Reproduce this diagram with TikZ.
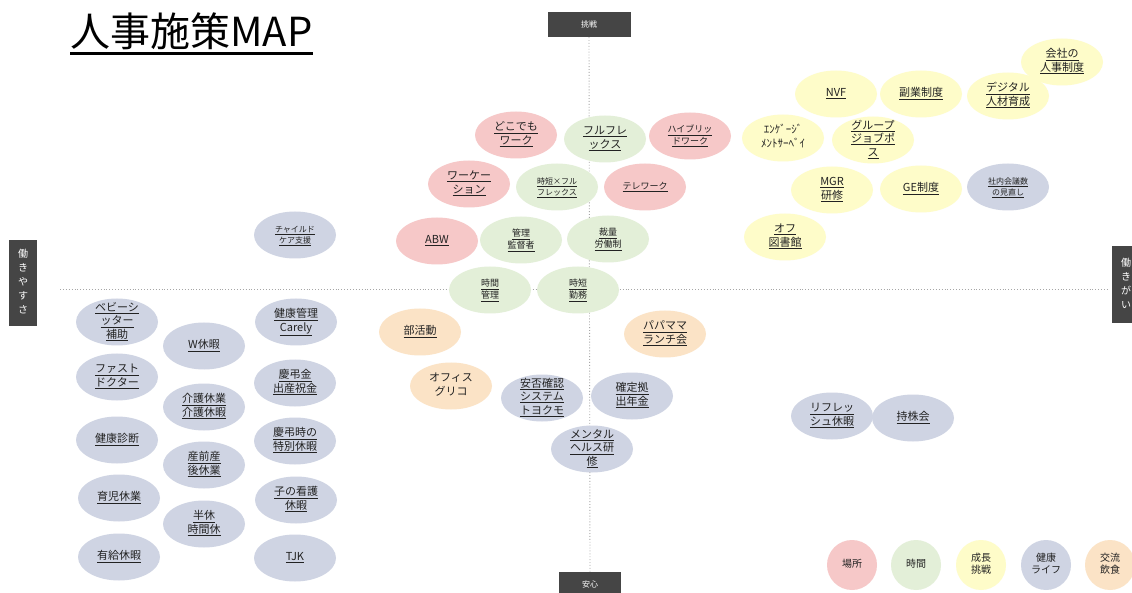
\documentclass[tikz,border=0pt]{standalone}
\usepackage{fontspec}
\setmainfont{Noto Sans CJK JP}
\usetikzlibrary{shapes.geometric}
\definecolor{cPink}{HTML}{F6C8C8}
\definecolor{cGreen}{HTML}{E3EFD8}
\definecolor{cYellow}{HTML}{FEFCC9}
\definecolor{cBlue}{HTML}{CFD4E3}
\definecolor{cOrange}{HTML}{FBE3C6}
\definecolor{axisbox}{HTML}{454545}
\definecolor{txt}{HTML}{222222}
\newcommand{\U}[1]{\underline{#1}}
\newcommand{\T}[1]{\raisebox{-2.6pt}[0pt][0pt]{\begin{tabular}{@{}c@{}}#1\end{tabular}}}
\tikzset{
  pol/.style={ellipse, minimum width=82pt, minimum height=47pt, inner sep=0pt, text=txt, font=\fontsize{11}{13.5}\selectfont},
  small/.style={font=\fontsize{9}{12}\selectfont},
  tiny/.style={font=\fontsize{8}{11}\selectfont},
  place/.style={pol, fill=cPink},
  timec/.style={pol, fill=cGreen},
  growth/.style={pol, fill=cYellow},
  health/.style={pol, fill=cBlue},
  social/.style={pol, fill=cOrange},
  legendc/.style={circle, minimum size=50pt, inner sep=0pt, text=txt, font=\fontsize{10}{12.5}\selectfont},
  axislbl/.style={fill=axisbox, text=white, inner sep=0pt, font=\fontsize{8}{10}\selectfont},
  vlbl/.style={axislbl, font=\fontsize{10}{14}\selectfont},
  axisline/.style={draw=black!35, dotted, line width=0.9pt}
}
\begin{document}
\begin{tikzpicture}[x=1pt,y=-1pt]
\useasboundingbox[fill=white] (0,0) rectangle (1132,593);

% title
\node[anchor=base west, inner sep=0pt, text=black, font=\fontsize{40}{44}\selectfont] (title) at (70,47) {人事施策MAP};
\draw[line width=2.2pt] ([yshift=-3pt]title.south west) -- ([yshift=-3pt]title.south east);

% axes
\node[axislbl, minimum width=83pt, minimum height=25pt] (top) at (589,24.5) {挑戦};
\node[axislbl, minimum width=62pt, minimum height=24pt] (bot) at (590,584) {安心};
\node[vlbl, minimum width=28pt, minimum height=86pt] (left) at (23,283) {\T{働\\き\\や\\す\\さ}};
\node[vlbl, minimum width=28pt, minimum height=77pt] (right) at (1126,285) {\T{働\\き\\が\\い}};
\coordinate (hl) at (60,289);
\coordinate (hr) at (1108,289);
\draw[axisline] (top.south) -- (bot.north);
\draw[axisline] (hl) -- (hr);

% place (pink)
\node[place] (w1) at (516,135) {\T{\U{どこでも}\\\U{ワーク}}};
\node[place, small] (w2) at (690,136) {\T{\U{ハイブリッ}\\\U{ドワーク}}};
\node[place] (w3) at (469,184) {\T{\U{ワーケー}\\\U{ション}}};
\node[place, small] (w4) at (645,187) {\T{\U{テレワーク}}};
\node[place] (w5) at (437,241) {\T{\U{ABW}}};

% time (green)
\node[timec] (t1) at (605,139) {\T{\U{フルフレ}\\\U{ックス}}};
\node[timec, tiny] (t2) at (557,187) {\T{\U{時短×フル}\\\U{フレックス}}};
\node[timec, small] (t3) at (521,240) {\T{\U{管理}\\\U{監督者}}};
\node[timec, small] (t4) at (608,239) {\T{\U{裁量}\\\U{労働制}}};
\node[timec, small] (t5) at (490,290) {\T{\U{時間}\\\U{管理}}};
\node[timec, small] (t6) at (578,290) {\T{\U{時短}\\\U{勤務}}};

% growth (yellow)
\node[growth] (g1) at (1062,62) {\T{\U{会社の}\\\U{人事制度}}};
\node[growth] (g2) at (836,94) {\T{\U{NVF}}};
\node[growth] (g3) at (921,94) {\T{\U{副業制度}}};
\node[growth] (g4) at (1008,96) {\T{\U{デジタル}\\\U{人材育成}}};
\node[growth] (g5) at (783,138) {\T{ｴﾝｹﾞｰｼﾞ\\ﾒﾝﾄｻｰﾍﾞｲ}};
\node[growth] (g6) at (873,140) {\T{\U{グループ}\\\U{ジョブポ}\\\U{ス}}};
\node[growth] (g7) at (832,190) {\T{\U{MGR}\\\U{研修}}};
\node[growth] (g8) at (921,189) {\T{\U{GE制度}}};
\node[growth] (g9) at (785,237) {\T{\U{オフ}\\\U{図書館}}};

% health (blue)
\node[health, tiny] (h1) at (1008,187) {\T{\U{社内会議数}\\\U{の見直し}}};
\node[health, tiny] (h2) at (295,235) {\T{\U{チャイルド}\\\U{ケア支援}}};
\node[health] (h3) at (117,322) {\T{\U{ベビーシ}\\\U{ッター}\\\U{補助}}};
\node[health] (h4) at (296,322) {\T{\U{健康管理}\\\U{Carely}}};
\node[health] (h5) at (204,346) {\T{\U{W休暇}}};
\node[health] (h6) at (117,377) {\T{\U{ファスト}\\\U{ドクター}}};
\node[health] (h7) at (295,383) {\T{\U{慶弔金}\\\U{出産祝金}}};
\node[health] (h8) at (204,407) {\T{\U{介護休業}\\\U{介護休暇}}};
\node[health] (h9) at (117,440) {\T{\U{健康診断}}};
\node[health] (h10) at (295,441) {\T{\U{慶弔時の}\\\U{特別休暇}}};
\node[health] (h11) at (204,465) {\T{\U{産前産}\\\U{後休業}}};
\node[health] (h12) at (119,498) {\T{\U{育児休業}}};
\node[health] (h13) at (296,500) {\T{\U{子の看護}\\\U{休暇}}};
\node[health] (h14) at (204,524) {\T{\U{半休}\\\U{時間休}}};
\node[health] (h15) at (119,557) {\T{\U{有給休暇}}};
\node[health] (h16) at (295,558) {\T{\U{TJK}}};
\node[health] (h17) at (542,398) {\T{\U{安否確認}\\\U{システム}\\\U{トヨクモ}}};
\node[health] (h18) at (632,396) {\T{\U{確定拠}\\\U{出年金}}};
\node[health] (h19) at (592,449) {\T{\U{メンタル}\\\U{ヘルス研}\\\U{修}}};
\node[health] (h20) at (832,416) {\T{\U{リフレッ}\\\U{シュ休暇}}};
\node[health] (h21) at (913,418) {\T{\U{持株会}}};

% social (orange)
\node[social] (e1) at (420,332) {\T{\U{部活動}}};
\node[social] (e2) at (665,334) {\T{\U{パパママ}\\\U{ランチ会}}};
\node[social] (e3) at (451,386) {\T{オフィス\\グリコ}};

% legend
\node[legendc, fill=cPink] (l1) at (852,565) {\T{場所}};
\node[legendc, fill=cGreen] (l2) at (916,565) {\T{時間}};
\node[legendc, fill=cYellow] (l3) at (981,565) {\T{成長\\挑戦}};
\node[legendc, fill=cBlue] (l4) at (1046,565) {\T{健康\\ライフ}};
\node[legendc, fill=cOrange] (l5) at (1110,565) {\T{交流\\飲食}};
\end{tikzpicture}
\end{document}
